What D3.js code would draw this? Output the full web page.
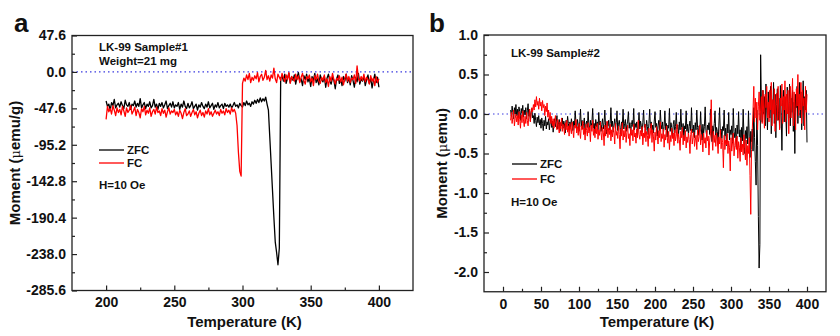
<!DOCTYPE html>
<html><head><meta charset="utf-8">
<script src="https://cdn.jsdelivr.net/npm/d3@7"></script>
<style>
body{margin:0;background:#fff;}
svg text{font-family:"Liberation Sans",Arial,sans-serif;font-weight:bold;fill:#111;}
</style></head>
<body><svg id="c" width="840" height="336"></svg>
<script>
// ---------- Panel a data (T = 200..400 K, step 1) ----------
const tempA = d3.range(200, 401, 1);
const zfcA = [
-38,-45,-42,-50,-40,-44,-36,-47,-43,-41,
-46,-39,-44,-48,-37,-43,-45,-40,-49,-42,
-44,-38,-46,-41,-45,-35,-47,-43,-40,-48,
-42,-45,-39,-47,-44,-36,-46,-42,-49,-41,
-45,-40,-47,-43,-38,-48,-44,-41,-46,-39,
-47,-43,-45,-40,-49,-42,-46,-38,-45,-48,
-41,-47,-44,-39,-48,-45,-42,-50,-43,-46,
-40,-45,-48,-42,-46,-39,-47,-44,-41,-49,
-43,-46,-40,-47,-44,-42,-48,-41,-45,-43,
-46,-42,-47,-44,-40,-45,-43,-47,-41,-44,
-46,-40,-44,-38,-43,-41,-45,-39,-42,-37,
-41,-36,-40,-34,-39,-35,-38,-33,-42,
-50,-85,-120,-155,-190,-222,-236,-252,-230,-8,
-5,-12,-3,-15,-8,-2,-14,-6,-11,-4,
-16,-7,-1,-12,-9,-18,-5,-10,-3,-13,
-8,-19,-6,-11,-2,-14,-9,-17,-4,-10,
-13,-6,-20,-8,-3,-12,-16,-7,-11,-22,
-9,-4,-15,-10,-18,-6,-12,-3,-14,-8,
-17,-5,-11,-20,-7,-13,-2,-16,-9,-12,
-6,-18,-10,-4,-15,-8,-21,-11,-3,-14,-7,-20
];
const fcA = [
-62,-45,-52,-48,-55,-44,-50,-57,-47,-53,
-49,-56,-45,-51,-58,-47,-53,-50,-44,-55,
-51,-46,-57,-49,-53,-60,-48,-52,-45,-56,
-50,-54,-47,-58,-52,-49,-55,-46,-53,-51,
-57,-48,-54,-50,-59,-52,-47,-55,-51,-53,
-49,-56,-52,-58,-50,-54,-61,-53,-48,-57,
-55,-51,-58,-53,-49,-56,-52,-60,-54,-50,
-57,-53,-59,-51,-55,-48,-56,-52,-58,-54,
-50,-55,-52,-57,-49,-54,-51,-56,-48,-53,
-50,-55,-47,-52,-49,-54,
-70,-105,-130,-136,
-15,-8,-12,-4,-10,-2,-14,-7,-11,-5,
-9,-1,-13,-6,-3,-11,-7,2,-10,-5,
-12,-4,-8,5,-9,-14,-3,-7,-11,-2,
-8,-13,-4,-10,-1,-15,-6,-9,-12,-3,
-10,-5,-14,-7,-2,-11,-16,-6,-9,-4,
-13,-8,-18,-5,-10,-3,-12,-15,-7,-11,
-4,-14,-9,-19,-6,-12,-2,-10,-16,-8,
-11,-5,-13,-7,-17,-9,-3,-12,-6,-14,
-8,-10,-4,-15,8,-9,-12,-6,-11,-3,
-13,-7,-10,-16,-5,-12,-8,-18,-6,-14,-9
];
const yTicksA = [-285.6,-238.0,-190.4,-142.8,-95.2,-47.6,0.0,47.6];
const xTicksA = [200,250,300,350,400];

// ---------- Panel b data (T = 10..400 K, step 1) ----------
const tempB = d3.range(10, 401, 1);
const zfcB = [
0.05,-0.03,0.1,0.02,-0.06,0.08,0.0,0.12,-0.02,0.06,
-0.05,0.09,0.03,-0.08,0.07,0.01,0.11,-0.04,0.05,-0.01,
0.08,-0.06,0.04,0.13,-0.03,0.06,-0.09,0.02,0.07,-0.05,
-0.02,-0.12,0.01,-0.08,-0.16,-0.04,-0.11,-0.02,-0.14,-0.07,
-0.18,-0.05,-0.12,-0.21,-0.08,-0.15,-0.03,-0.19,-0.1,-0.14,
-0.06,-0.2,-0.11,-0.04,-0.17,-0.09,-0.23,-0.12,-0.06,-0.16,
-0.1,-0.02,-0.19,-0.13,-0.07,-0.22,-0.11,-0.15,-0.05,-0.18,
-0.09,-0.14,-0.24,-0.08,-0.16,-0.03,-0.12,-0.2,-0.1,-0.17,
-0.06,-0.13,-0.21,-0.09,-0.15,0.04,-0.11,-0.18,-0.07,-0.14,
-0.22,-0.1,0.06,-0.16,-0.08,-0.19,-0.12,-0.05,-0.25,-0.13,
-0.09,-0.17,0.03,-0.14,-0.21,-0.08,-0.15,-0.11,0.07,-0.18,
-0.12,-0.24,-0.07,-0.16,-0.1,-0.2,0.02,-0.14,-0.09,-0.22,
-0.13,-0.06,-0.19,-0.11,0.05,-0.17,-0.25,-0.1,-0.15,-0.08,
-0.2,-0.12,0.08,-0.16,-0.09,-0.23,-0.14,-0.06,-0.18,-0.11,
0.04,-0.21,-0.13,-0.08,-0.17,-0.26,-0.1,-0.15,0.06,-0.19,
-0.12,-0.07,-0.22,-0.14,-0.09,0.03,-0.18,-0.11,-0.25,-0.13,
-0.08,-0.16,0.07,-0.2,-0.12,-0.17,-0.1,-0.27,-0.14,0.02,
-0.19,-0.09,-0.15,-0.23,-0.11,0.05,-0.17,-0.13,-0.21,-0.08,
-0.16,-0.26,-0.12,0.06,-0.18,-0.1,-0.2,-0.14,-0.24,-0.09,
0.03,-0.17,-0.12,-0.28,-0.15,-0.08,-0.21,0.05,-0.13,-0.19,
-0.1,-0.25,-0.16,0.04,-0.2,-0.12,-0.29,-0.14,-0.18,0.07,
-0.22,-0.11,-0.17,-0.3,-0.13,-0.08,-0.24,-0.16,0.02,-0.19,
-0.14,-0.27,-0.1,-0.2,0.06,-0.17,-0.23,-0.12,-0.32,-0.15,
-0.19,0.04,-0.22,-0.13,-0.26,-0.16,-0.09,-0.21,0.08,-0.18,
-0.24,-0.14,-0.3,-0.11,-0.2,0.05,-0.17,-0.27,-0.15,-0.22,
0.03,-0.19,-0.33,-0.13,-0.24,-0.16,0.09,-0.21,-0.28,-0.14,
-0.2,-0.11,-0.26,0.06,-0.18,-0.35,-0.15,-0.23,-0.12,0.04,
-0.27,-0.17,-0.22,-0.38,-0.14,0.08,-0.25,-0.19,-0.31,-0.16,
-0.21,0.05,-0.28,-0.18,-0.4,-0.13,-0.24,0.02,-0.33,-0.2,
-0.26,-0.15,-0.37,0.07,-0.22,-0.3,-0.18,-0.42,-0.14,-0.25,
0.03,-0.29,-0.2,-0.45,-0.17,-0.34,0.06,-0.26,-0.5,-0.21,
-0.31,-0.16,-0.38,0.04,-0.28,-0.55,-0.22,-0.35,-0.19,-0.47,
0.08,-0.3,-0.6,-0.9,0.05,-0.4,-1.3,-1.95,-1.65,0.75,
0.15,-0.1,0.3,0.0,0.22,-0.15,0.38,0.05,-0.2,0.28,
0.1,-0.05,0.35,-0.25,0.18,0.02,0.4,-0.12,0.25,-0.3,
0.12,0.32,-0.08,0.2,-0.18,0.36,0.0,-0.46,0.15,0.3,
-0.1,0.22,0.05,-0.28,0.34,0.1,-0.05,0.38,-0.15,0.2,
0.02,0.3,-0.22,0.15,-0.5,0.25,0.08,0.35,-0.12,0.18,
0.4,-0.05,0.28,-0.2,0.1,0.42,-0.15,0.22,0.05,0.3,
-0.36
];
const fcB = [
-0.08,0.02,-0.12,-0.04,0.05,-0.15,-0.06,0.0,-0.1,-0.02,
-0.14,0.03,-0.07,-0.18,-0.01,-0.11,0.04,-0.09,-0.16,-0.03,
-0.12,0.02,-0.08,-0.15,-0.02,0.06,-0.1,0.0,0.08,0.03,
0.12,0.05,0.18,0.09,0.22,0.11,0.16,0.06,0.2,0.1,
0.15,0.04,0.17,0.08,0.12,-0.02,0.1,0.03,0.14,-0.04,
0.05,-0.08,0.02,-0.12,-0.03,-0.15,-0.06,-0.18,-0.09,-0.02,
-0.14,-0.2,-0.07,-0.16,-0.24,-0.1,-0.19,-0.05,-0.22,-0.13,
-0.17,-0.26,-0.11,-0.2,-0.08,-0.23,-0.15,-0.28,-0.12,-0.19,
-0.25,-0.1,-0.21,-0.3,-0.14,-0.18,-0.07,-0.24,-0.16,-0.27,
-0.12,-0.22,-0.31,-0.15,-0.2,-0.09,-0.26,-0.18,-0.33,-0.13,
-0.21,-0.28,-0.11,-0.24,-0.17,-0.35,-0.14,-0.22,-0.08,-0.27,
-0.19,-0.3,-0.15,-0.25,-0.12,-0.32,-0.2,-0.27,-0.1,-0.24,
-0.33,-0.17,-0.23,-0.4,-0.14,-0.28,-0.21,-0.09,-0.3,-0.18,
-0.26,-0.13,-0.34,-0.2,-0.29,-0.16,-0.24,-0.38,-0.12,-0.27,
-0.22,-0.31,-0.15,-0.26,-0.44,-0.19,-0.28,-0.11,-0.33,-0.21,
-0.29,-0.17,-0.36,-0.23,-0.14,-0.31,-0.25,-0.4,-0.18,-0.27,
-0.2,-0.34,-0.13,-0.29,-0.24,-0.37,-0.19,-0.3,-0.08,-0.26,
-0.32,-0.21,-0.28,-0.16,-0.39,-0.24,-0.3,-0.13,-0.35,-0.22,
-0.27,-0.41,-0.18,-0.31,-0.24,-0.12,-0.36,-0.2,-0.29,-0.47,
-0.23,-0.33,-0.16,-0.28,-0.38,-0.21,-0.3,-0.1,-0.35,-0.25,
-0.31,-0.19,-0.42,-0.26,-0.33,-0.15,-0.29,-0.37,-0.22,-0.45,
-0.27,-0.35,-0.18,-0.31,-0.24,-0.4,-0.2,-0.34,-0.28,-0.13,
-0.37,-0.25,-0.32,-0.46,-0.22,-0.3,-0.17,-0.39,-0.27,-0.34,
-0.21,-0.43,-0.29,-0.36,-0.24,-0.32,-0.5,-0.26,-0.19,-0.38,
-0.3,-0.23,-0.41,-0.33,-0.27,-0.45,-0.2,-0.35,-0.29,-0.14,
-0.39,-0.26,-0.32,-0.48,-0.24,-0.37,-0.3,-0.43,-0.21,-0.34,
-0.28,-0.52,-0.33,-0.25,0.18,-0.3,-0.46,-0.22,-0.36,-0.27,
-0.41,-0.24,-0.34,-0.5,-0.29,-0.38,-0.2,-0.44,-0.31,-0.36,
-0.68,-0.27,-0.45,-0.33,-0.39,-0.25,-0.5,-0.34,-0.42,-0.72,
-0.3,-0.47,-0.36,-0.24,-0.53,-0.4,-0.31,-0.45,-0.28,-0.56,
-0.35,-0.42,-0.6,-0.3,-0.48,-0.38,-0.52,-0.26,-0.44,-0.58,
-0.33,-0.65,-0.4,-0.5,-0.3,-0.78,-1.27,-0.45,-0.2,0.05,
0.35,-0.1,0.2,-0.05,0.15,-0.2,0.1,0.28,-0.08,0.05,
0.22,-0.12,0.3,0.02,-0.18,0.25,0.08,0.35,-0.05,0.15,
-0.1,0.3,0.05,0.4,-0.15,0.18,0.0,0.32,-0.22,0.12,
0.26,-0.08,0.35,0.02,-0.2,0.2,0.1,0.38,-0.12,0.22,
0.05,0.42,-0.1,0.25,0.0,0.3,-0.25,0.15,0.35,-0.05,
0.2,0.45,-0.15,0.28,0.08,-0.2,0.32,0.1,0.5,-0.02,
0.25,0.05,0.4,-0.12,0.3,0.1,0.2,-0.2,0.35,0.02,
0.25
];
const yTicksB = [1.0,0.5,0.0,-0.5,-1.0,-1.5,-2.0];
const xTicksB = [0,50,100,150,200,250,300,350,400];

const seriesNames = ["ZFC","FC"];
const seriesColors = ["#000000","#ff0000"];

const svg = d3.select("#c");

function panel(o){
  const g = svg.append("g");
  const x = d3.scaleLinear().domain(o.xDom).range([o.x0, o.x1]);
  const y = d3.scaleLinear().domain(o.yDom).range([o.y1, o.y0]);
  const line = d3.line().x(d=>x(d[0])).y(d=>y(d[1]));

  g.append("line").attr("x1",o.x0).attr("x2",o.x1).attr("y1",y(0)).attr("y2",y(0))
    .attr("stroke","#3a3ae0").attr("stroke-width",1.2).attr("stroke-dasharray","1.5,3");

  o.series.forEach((s,i)=>{
    const pts = o.temps.map((t,k)=>[t,s[k]]);
    g.append("path").attr("d",line(pts)).attr("fill","none")
      .attr("stroke",seriesColors[i]).attr("stroke-width",o.lw).attr("stroke-linejoin","round");
  });

  g.append("g").attr("transform",`translate(0,${o.y1})`)
    .call(d3.axisBottom(x).tickValues(o.xTicks).tickSize(-5).tickPadding(7).tickFormat(d3.format("d")));
  g.append("g").attr("transform",`translate(0,${o.y1})`)
    .call(d3.axisBottom(x).tickValues(o.xMinor).tickSize(-3).tickFormat(""));
  g.append("g").attr("transform",`translate(${o.x0},0)`)
    .call(d3.axisLeft(y).tickValues(o.yTicks).tickSize(-5).tickPadding(6).tickFormat(d=>d.toFixed(1)));
  g.append("g").attr("transform",`translate(${o.x0},0)`)
    .call(d3.axisLeft(y).tickValues(o.yMinor).tickSize(-3).tickFormat(""));
  g.selectAll(".domain").remove();
  g.selectAll(".tick line").attr("stroke","#222").attr("stroke-width",1.2);
  g.selectAll(".tick text").attr("font-size",14).attr("font-family","Liberation Sans, Arial").attr("font-weight","bold").attr("fill","#111");

  g.append("rect").attr("x",o.x0).attr("y",o.y0).attr("width",o.x1-o.x0).attr("height",o.y1-o.y0)
    .attr("fill","none").attr("stroke","#222").attr("stroke-width",1.3);

  g.append("text").attr("x",(o.x0+o.x1)/2+2).attr("y",327).attr("text-anchor","middle")
    .attr("font-size",15).text("Temperature (K)");
  const yt = g.append("text").attr("transform",`translate(${o.yTitleX},${(o.y0+o.y1)/2}) rotate(-90)`)
    .attr("text-anchor","middle").attr("font-size",15);
  yt.append("tspan").text("Moment (");
  yt.append("tspan").attr("font-weight","normal").attr("font-family","DejaVu Serif, serif").attr("font-size",13).text("\u03bc");
  yt.append("tspan").text(o.unit + ")");

  g.append("text").attr("x",o.letterX).attr("y",32).attr("font-size",26).text(o.letter);

  o.notes.forEach(n=>{
    g.append("text").attr("x",n[0]).attr("y",n[1]).attr("font-size",11.5).text(n[2]);
  });
  o.legend.forEach((ly,i)=>{
    g.append("line").attr("x1",o.legX).attr("x2",o.legX+25).attr("y1",ly).attr("y2",ly)
      .attr("stroke",seriesColors[i]).attr("stroke-width",1.3);
    g.append("text").attr("x",o.legX+28).attr("y",ly+4).attr("font-size",11.5).text(seriesNames[i]);
  });
}

panel({x0:72,x1:413,y0:35.5,y1:290.5,xDom:[175,425],yDom:[-285.6,47.6],
  temps:tempA,series:[zfcA,fcA],lw:1.3,
  xTicks:xTicksA,xMinor:[225,275,325,375],
  yTicks:yTicksA,yMinor:yTicksA.slice(0,-1).map((v,i)=>(v+yTicksA[i+1])/2),
  yTitleX:20,unit:"emu/g",letter:"a",letterX:14,
  notes:[[99,51,"LK-99 Sample#1"],[99,65,"Weight=21 mg"],[99,189,"H=10 Oe"]],
  legX:99,legend:[150,163]});

panel({x0:484,x1:826,y0:35,y1:291.75,xDom:[-25,425],yDom:[-2.25,1.0],
  temps:tempB,series:[zfcB,fcB],lw:1.0,
  xTicks:xTicksB,xMinor:[25,75,125,175,225,275,325,375],
  yTicks:yTicksB,yMinor:[0.75,0.25,-0.25,-0.75,-1.25,-1.75],
  yTitleX:447,unit:"emu",letter:"b",letterX:429,
  notes:[[511,57,"LK-99 Sample#2"],[511,206,"H=10 Oe"]],
  legX:512,legend:[164,179]});
</script></body></html>
